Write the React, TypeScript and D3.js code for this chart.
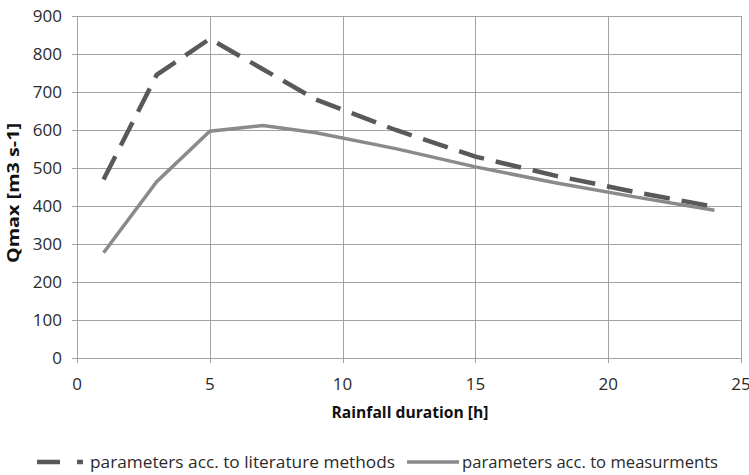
import React, { useEffect, useRef } from 'react';
import * as d3 from 'd3';

// rainfall duration [h]
const durations = [1, 3, 5, 7, 9, 12, 15, 18, 21, 24];
// Qmax [m3 s-1]
const literatureValues = [470, 745, 840, 760, 680, 600, 530, 480, 437, 398];
const measuredValues = [277, 464, 597, 612, 593, 551, 503, 461, 424, 389];
const xTicks = [0, 5, 10, 15, 20, 25];
const yTicks = [0, 100, 200, 300, 400, 500, 600, 700, 800, 900];
const seriesNames = ['parameters acc. to literature methods', 'parameters acc. to measurments'];

const App = () => {
  const svgRef = useRef<SVGSVGElement>(null);

  useEffect(() => {
    const width = 749;
    const height = 475;
    const font = "'Open Sans', sans-serif";
    const left = 77;
    const right = 741;
    const top = 16;
    const bottom = 358;
    const gridColor = '#a3a3a3';

    const svg = d3.select(svgRef.current).attr('width', width).attr('height', height);
    svg.selectAll('*').remove();
    svg.append('rect').attr('width', width).attr('height', height).attr('fill', '#fff');

    const x = d3.scaleLinear().domain([0, 25]).range([left, right]);
    const y = d3.scaleLinear().domain([0, 900]).range([bottom, top]);

    // grid
    svg
      .append('g')
      .selectAll('line')
      .data(yTicks)
      .join('line')
      .attr('x1', left - 5)
      .attr('x2', right)
      .attr('y1', (d) => Math.round(y(d)) + 0.5)
      .attr('y2', (d) => Math.round(y(d)) + 0.5)
      .attr('stroke', gridColor);
    svg
      .append('g')
      .selectAll('line')
      .data(xTicks)
      .join('line')
      .attr('x1', (d) => Math.round(x(d)) + 0.5)
      .attr('x2', (d) => Math.round(x(d)) + 0.5)
      .attr('y1', top)
      .attr('y2', bottom + 5)
      .attr('stroke', gridColor);

    // tick labels
    svg
      .append('g')
      .selectAll('text')
      .data(yTicks)
      .join('text')
      .attr('x', 62)
      .attr('y', (d) => y(d) + 6)
      .attr('text-anchor', 'end')
      .attr('font-family', font)
      .attr('font-size', 17)
      .attr('fill', '#2a2a2a')
      .text((d) => d);
    svg
      .append('g')
      .selectAll('text')
      .data(xTicks)
      .join('text')
      .attr('x', (d) => x(d))
      .attr('y', 390)
      .attr('text-anchor', 'middle')
      .attr('font-family', font)
      .attr('font-size', 17)
      .attr('fill', '#2a2a2a')
      .text((d) => d);

    // axis titles
    svg
      .append('text')
      .attr('x', 410)
      .attr('y', 418)
      .attr('text-anchor', 'middle')
      .attr('font-family', font)
      .attr('font-weight', 'bold')
      .attr('font-size', 16.5)
      .attr('textLength', 157)
      .attr('lengthAdjust', 'spacingAndGlyphs')
      .attr('fill', '#111')
      .text('Rainfall duration [h]');
    svg
      .append('text')
      .attr('transform', 'translate(19,193) rotate(-90)')
      .attr('text-anchor', 'middle')
      .attr('font-family', font)
      .attr('font-weight', 'bold')
      .attr('font-size', 16.5)
      .attr('textLength', 140)
      .attr('lengthAdjust', 'spacingAndGlyphs')
      .attr('fill', '#111')
      .text('Qmax [m3 s-1]');

    // lines
    const line = d3
      .line<number>()
      .x((d, i) => x(durations[i]))
      .y((d) => y(d));

    svg
      .append('path')
      .datum(measuredValues)
      .attr('d', line)
      .attr('fill', 'none')
      .attr('stroke', '#8a8a8a')
      .attr('stroke-width', 3.5);
    svg
      .append('path')
      .datum(literatureValues)
      .attr('d', line)
      .attr('fill', 'none')
      .attr('stroke', '#595959')
      .attr('stroke-width', 4.5)
      .attr('stroke-dasharray', '26 12');

    // legend
    const legend = svg.append('g');
    legend
      .append('line')
      .attr('x1', 37)
      .attr('x2', 83)
      .attr('y1', 462)
      .attr('y2', 462)
      .attr('stroke', '#595959')
      .attr('stroke-width', 4.5)
      .attr('stroke-dasharray', '23 17');
    legend
      .append('line')
      .attr('x1', 407)
      .attr('x2', 459)
      .attr('y1', 462)
      .attr('y2', 462)
      .attr('stroke', '#8a8a8a')
      .attr('stroke-width', 3.5);
    legend
      .selectAll('text.lbl')
      .data(seriesNames)
      .join('text')
      .attr('class', 'lbl')
      .attr('x', (d, i) => (i === 0 ? 90 : 462))
      .attr('y', 468)
      .attr('font-family', font)
      .attr('font-size', 16.5)
      .attr('textLength', (d, i) => (i === 0 ? 305 : 256))
      .attr('lengthAdjust', 'spacingAndGlyphs')
      .attr('fill', '#2a2a2a')
      .text((d) => d);
  }, []);

  return (
    <div>
      <svg ref={svgRef} style={{ position: 'absolute', left: 0, top: 0 }}></svg>
    </div>
  );
};

export default App;
